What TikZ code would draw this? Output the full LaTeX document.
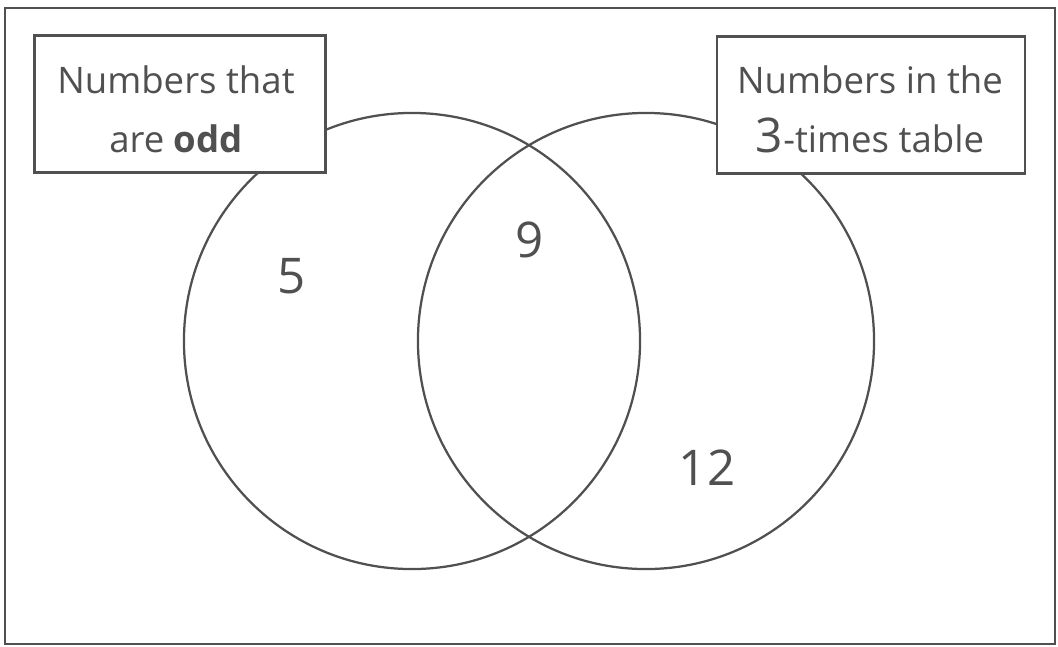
\documentclass[tikz,border=0pt]{standalone}
\usepackage{fontspec}
\setmainfont{Open Sans}
\usetikzlibrary{positioning}
\definecolor{inkgray}{HTML}{505050}

\begin{document}
\begin{tikzpicture}[
  x=0.025cm, y=-0.025cm,
  every node/.style={text=inkgray},
  setring/.style={
    circle, draw=inkgray, line width=1.6pt, minimum size=11.4cm, inner sep=0pt
  },
  label box/.style={
    rectangle, draw=inkgray, line width=1.6pt, fill=white, align=center,
    minimum height=3.43cm, font=\fontsize{26pt}{42pt}\selectfont
  },
  member/.style={font=\fontsize{35pt}{40pt}\selectfont}
]
\useasboundingbox (0,0) rectangle (1058,646);

% frame
\draw[inkgray, line width=2pt] (5,8) rectangle (1055,644);

% the two sets
\node[setring] (odd) at (412,341) {};
\node[setring] (three) at (646,341) {};

% labels of the sets
\node[label box, minimum width=7.27cm] (oddlabel) at (180,104) {};
\node[label box, minimum width=7.7cm] (threelabel) at (871,105) {};
\node[label box, draw=none, fill=none] (oddtext) at (176,109) {Numbers that\\ are \textbf{odd}};
\node[label box, draw=none, fill=none] (threetext) at (870,109) {Numbers in the\\ {\fontsize{34pt}{42pt}\selectfont 3}-times table};

% members
\node[member] (five) at (292,276) {5};
\node[member] (nine) at (530,240) {9};
\node[member] (twelve) at (707,468) {12};

\end{tikzpicture}
\end{document}
